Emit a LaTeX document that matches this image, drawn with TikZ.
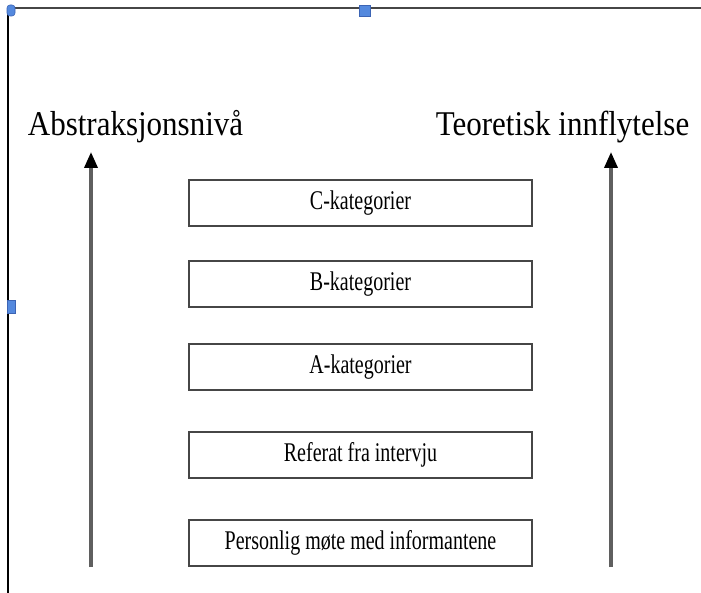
\documentclass[tikz,border=0pt]{standalone}
\usepackage{fontspec}
\setmainfont{Liberation Serif}
\usetikzlibrary{arrows.meta}
\definecolor{framegray}{RGB}{70,70,70}
\definecolor{arrowgray}{RGB}{95,95,95}
\definecolor{handleblue}{RGB}{84,137,222}
\definecolor{handleedge}{RGB}{60,100,180}
\newcommand{\boxtext}[1]{\scalebox{1}[1.35]{\fontsize{20}{24}\selectfont #1}}
\newcommand{\labeltext}[1]{\scalebox{1}[1.12]{\fontsize{31}{36}\selectfont #1}}
\tikzset{
  catbox/.style={draw=framegray, line width=2pt, minimum width=343pt, minimum height=46pt, inner sep=0pt, anchor=center},
  uparrow/.style={draw=arrowgray, line width=3.5pt, -{Triangle[length=16pt,width=13pt,fill=black,color=black]}},
  handle/.style={fill=handleblue, draw=handleedge, line width=0.6pt},
  frameline/.style={line width=2pt},
  biglabel/.style={inner sep=0pt, anchor=base}
}
\begin{document}
\begin{tikzpicture}[x=1pt,y=-1pt]
\useasboundingbox (0,0) rectangle (701,593);
% frame
\draw[frameline, draw=framegray] (8,8) -- (701,8);
\draw[frameline, draw=black] (8,8) -- (8,593);
% handles
\draw[handle, rounded corners=3pt] (7,5) rectangle (15,16);
\draw[handle] (359,5) rectangle (370,16);
\draw[handle] (7,300) rectangle (15,313);
% labels
\node[biglabel] (labA) at (135.5,136) {\labeltext{Abstraksjonsnivå}};
\node[biglabel] (labT) at (562.5,136) {\labeltext{Teoretisk innflytelse}};
% boxes
\node[catbox] (C) at (360.5,203) {\boxtext{C-kategorier}};
\node[catbox] (B) at (360.5,284.5) {\boxtext{B-kategorier}};
\node[catbox] (A) at (360.5,367) {\boxtext{A-kategorier}};
\node[catbox] (R) at (360.5,454.5) {\boxtext{Referat fra intervju}};
\node[catbox] (P) at (360.5,543) {\boxtext{Personlig møte med informantene}};
% arrows
\coordinate (l0) at (91,567);
\coordinate (l1) at (91,152);
\coordinate (r0) at (611,567);
\coordinate (r1) at (611,152);
\draw[uparrow] (l0) -- (l1);
\draw[uparrow] (r0) -- (r1);
\end{tikzpicture}
\end{document}
